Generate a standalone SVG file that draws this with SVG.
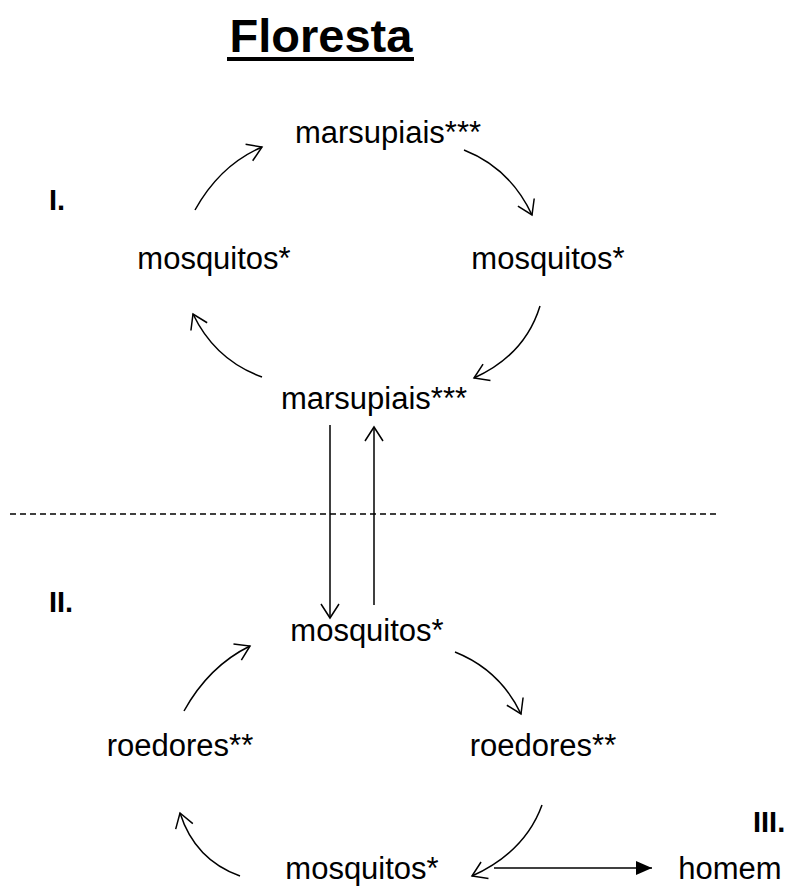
<svg xmlns="http://www.w3.org/2000/svg" width="790" height="891" viewBox="0 0 790 891">
<style>
text{font-family:"Liberation Sans",Arial,sans-serif;fill:#000}
.n{font-size:31px;text-anchor:middle}
.r{font-size:29px;font-weight:bold}
.c{fill:none;stroke:#000;stroke-width:1.5}
</style>
<defs>
<marker id="open" markerWidth="20" markerHeight="20" refX="15" refY="10" orient="auto" markerUnits="userSpaceOnUse">
<path d="M1,1 L15,10 L1,19" fill="none" stroke="#000" stroke-width="1.5"/>
</marker>
<marker id="solid" markerWidth="18" markerHeight="14" refX="16" refY="7" orient="auto" markerUnits="userSpaceOnUse">
<path d="M0,0 L16,7 L0,14 Z" fill="#000"/>
</marker>
</defs>
<rect width="790" height="891" fill="#fff"/>
<g id="title">
<text x="321" y="52" style="font-size:47px;font-weight:bold;text-anchor:middle">Floresta</text>
<rect x="227" y="57" width="187" height="4" fill="#000"/>
</g>
<g id="lbl-I"><text class="r" x="49" y="210">I.</text></g>
<g id="lbl-II"><text class="r" x="49" y="612">II.</text></g>
<g id="lbl-III"><text class="r" x="753" y="832">III.</text></g>
<g id="n1"><text class="n" x="388" y="143">marsupiais***</text></g>
<g id="n2"><text class="n" x="548" y="269">mosquitos*</text></g>
<g id="n3"><text class="n" x="374" y="409">marsupiais***</text></g>
<g id="n4"><text class="n" x="214" y="269">mosquitos*</text></g>
<g id="n5"><text class="n" x="367" y="641">mosquitos*</text></g>
<g id="n6"><text class="n" x="543" y="756">roedores**</text></g>
<g id="n7"><text class="n" x="362" y="879">mosquitos*</text></g>
<g id="n8"><text class="n" x="180" y="756">roedores**</text></g>
<g id="n9"><text class="n" x="730" y="879">homem</text></g>
<g id="connectors">
<line x1="10" y1="514" x2="718" y2="514" stroke="#000" stroke-width="1.5" stroke-dasharray="6,4"/>
<path class="c" d="M195,210 Q220,165 262,147" marker-end="url(#open)"/>
<path class="c" d="M464,150 Q510,168 532,215" marker-end="url(#open)"/>
<path class="c" d="M540,306 Q525,355 474,378" marker-end="url(#open)"/>
<path class="c" d="M262,377 Q215,360 193,314" marker-end="url(#open)"/>
<path class="c" d="M330,425 L330,618" marker-end="url(#open)"/>
<path class="c" d="M374,605 L374,427" marker-end="url(#open)"/>
<path class="c" d="M184,711 Q209,666 250,646" marker-end="url(#open)"/>
<path class="c" d="M455,652 Q500,670 521,714" marker-end="url(#open)"/>
<path class="c" d="M542,805 Q525,852 472,876" marker-end="url(#open)"/>
<path class="c" d="M240,876 Q195,860 180,813" marker-end="url(#open)"/>
<path class="c" d="M494,868 L652,868" marker-end="url(#solid)"/>
</g>
</svg>
